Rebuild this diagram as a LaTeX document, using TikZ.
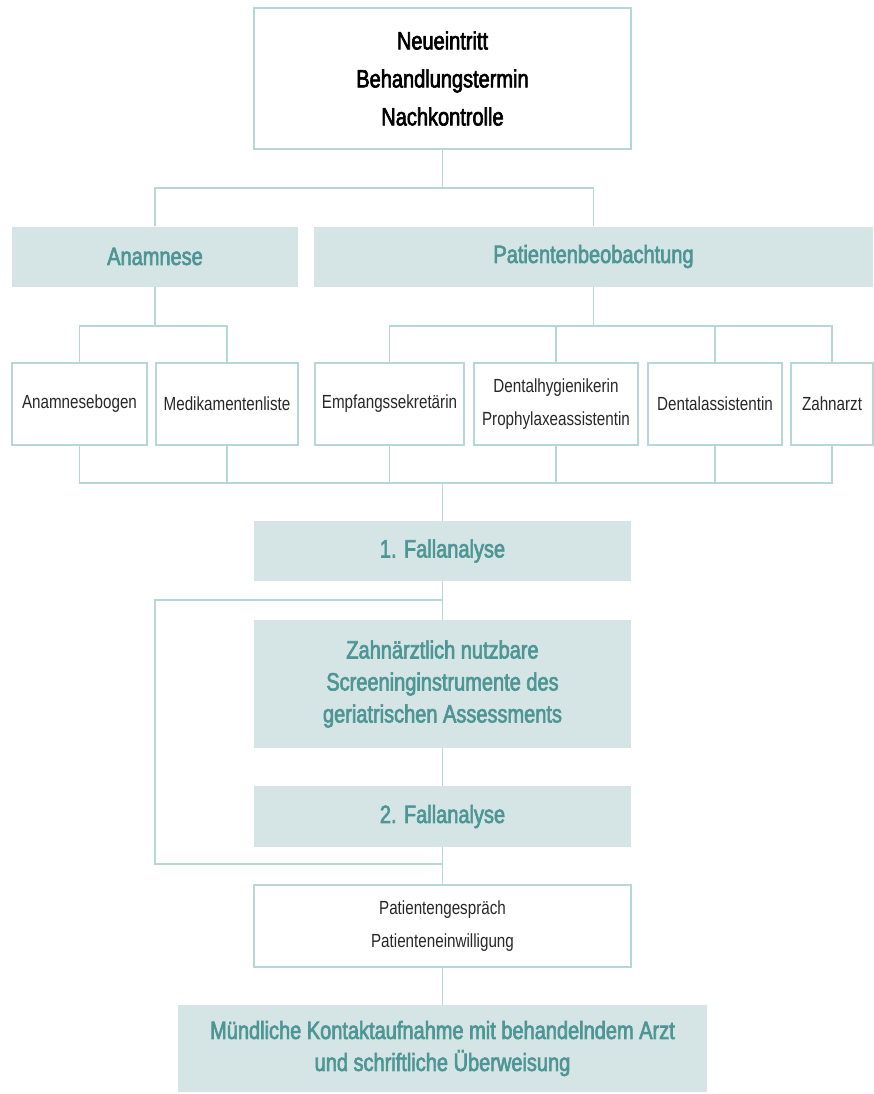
\documentclass[tikz,border=0pt]{standalone}
\usepackage{fontspec}
\setmainfont[FakeStretch=0.8]{Liberation Sans}
\newfontfamily\medfont[FakeStretch=0.8,FakeBold=2.5]{Liberation Sans}
\definecolor{boxfill}{RGB}{213,228,228}
\definecolor{tealtext}{RGB}{78,150,150}
\definecolor{linecol}{RGB}{182,214,216}
\definecolor{darktext}{RGB}{40,40,40}
\begin{document}
\begin{tikzpicture}[
    x=1pt, y=-1pt,
    head/.style={fill=boxfill, text=tealtext, inner sep=0pt, align=center,
                 font=\medfont\fontsize{25}{32}\selectfont},
    plain/.style={draw=linecol, line width=1.5pt, fill=white, text=darktext,
                  inner sep=0pt, align=center, font=\fontsize{19}{33}\selectfont},
    link/.style={draw=linecol, line width=1.5pt}
  ]
  \useasboundingbox (0,0) rectangle (874,1094);
  \node[plain, text=black, font=\medfont\fontsize{25}{38}\selectfont,
        minimum width=377pt, minimum height=141pt] (entry) at (442.5,78.5)
        {Neueintritt\\Behandlungstermin\\Nachkontrolle};
  \node[head, minimum width=286pt, minimum height=60pt] (anamnese) at (155,256.5) {Anamnese};
  \node[head, minimum width=559pt, minimum height=60pt] (beobachtung) at (593.5,256.5) {Patientenbeobachtung};
  \node[plain, minimum width=135pt, minimum height=82pt] (bogen) at (79.5,404) {Anamnesebogen};
  \node[plain, minimum width=142pt, minimum height=82pt] (medis) at (227,404) {Medikamentenliste};
  \node[plain, minimum width=149pt, minimum height=82pt] (empfang) at (389.5,404) {Empfangssekretärin};
  \node[plain, minimum width=164pt, minimum height=82pt] (hygiene) at (556,404) {Dentalhygienikerin\\Prophylaxeassistentin};
  \node[plain, minimum width=134pt, minimum height=82pt] (assist) at (715,404) {Dentalassistentin};
  \node[plain, minimum width=82pt, minimum height=82pt] (zahnarzt) at (832,404) {Zahnarzt};
  \node[head, minimum width=377pt, minimum height=60pt] (fall1) at (442.5,551) {1. Fallanalyse};
  \node[head, minimum width=377pt, minimum height=128pt] (screening) at (442.5,684)
        {Zahnärztlich nutzbare\\Screeninginstrumente des\\geriatrischen Assessments};
  \node[head, minimum width=377pt, minimum height=61pt] (fall2) at (442.5,816.5) {2. Fallanalyse};
  \node[plain, minimum width=377pt, minimum height=82pt] (gespraech) at (442.5,926)
        {Patientengespräch\\Patienteneinwilligung};
  \node[head, minimum width=529pt, minimum height=87pt] (kontakt) at (442.5,1048.5)
        {Mündliche Kontaktaufnahme mit behandelndem Arzt\\und schriftliche Überweisung};

  \coordinate (split) at (0,188);
  \coordinate (splitA) at (0,326);
  \coordinate (merge) at (0,483);
  \coordinate (loopA) at (155,600);
  \coordinate (loopB) at (155,864);

  \draw[link] (entry.south) -- (entry.south |- split);
  \draw[link] (anamnese.north) -- (anamnese.north |- split) -- (beobachtung.north |- split) -- (beobachtung.north);
  \draw[link] (anamnese.south) -- (anamnese.south |- splitA);
  \draw[link] (bogen.north) -- (bogen.north |- splitA) -- (medis.north |- splitA) -- (medis.north);
  \draw[link] (beobachtung.south) -- (beobachtung.south |- splitA);
  \draw[link] (empfang.north) -- (empfang.north |- splitA) -- (zahnarzt.north |- splitA) -- (zahnarzt.north);
  \draw[link] (hygiene.north) -- (hygiene.north |- splitA);
  \draw[link] (assist.north) -- (assist.north |- splitA);
  \draw[link] (bogen.south) -- (bogen.south |- merge) -- (zahnarzt.south |- merge) -- (zahnarzt.south);
  \draw[link] (medis.south) -- (medis.south |- merge);
  \draw[link] (empfang.south) -- (empfang.south |- merge);
  \draw[link] (hygiene.south) -- (hygiene.south |- merge);
  \draw[link] (assist.south) -- (assist.south |- merge);
  \draw[link] (fall1.north |- merge) -- (fall1.north);
  \draw[link] (fall1.south) -- (screening.north);
  \draw[link] (fall1.south |- loopA) -- (loopA) -- (loopB) -- (fall2.south |- loopB);
  \draw[link] (screening.south) -- (fall2.north);
  \draw[link] (fall2.south) -- (gespraech.north);
  \draw[link] (gespraech.south) -- (kontakt.north);
\end{tikzpicture}
\end{document}
